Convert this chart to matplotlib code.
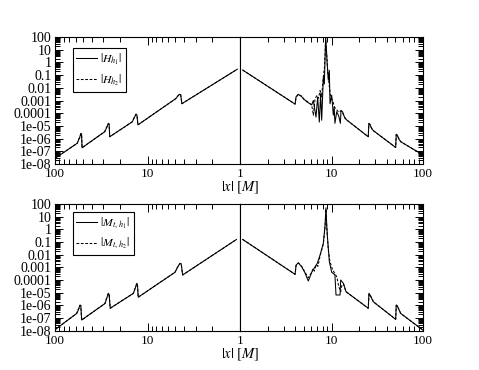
import numpy as np
import matplotlib.pyplot as plt
from matplotlib.ticker import FixedLocator, FixedFormatter, LogLocator, NullFormatter

plt.rcParams['font.family'] = ['Liberation Serif', 'DejaVu Serif']
plt.rcParams['mathtext.fontset'] = 'stix'

# ---- data ----
# top panel, left half (x runs 100 -> 1)
top_left_x = [100, 57.5, 55.5, 54.0, 52.6, 51.6, 51.0,
              29.0, 28.0, 27.2, 26.5, 26.0, 25.6,
              14.6, 14.1, 13.7, 13.3, 13.0, 12.7,
              4.95, 4.8, 4.65, 4.5, 4.38, 4.25, 1.07]
top_left_h1 = [2.8e-8, 4.3e-7, 8e-7, 1.3e-6, 2.6e-6, 2.2e-6, 1.9e-7,
               3.5e-6, 6e-6, 1e-5, 1.6e-5, 1.3e-5, 1.4e-6,
               2.1e-5, 3.5e-5, 5.5e-5, 8.7e-5, 7e-5, 1.2e-5,
               1.4e-3, 1.8e-3, 2.6e-3, 3.1e-3, 2.8e-3, 5.6e-4, 0.29]
top_left_h2 = [2.8e-8, 4.3e-7, 9e-7, 1.1e-6, 2.3e-6, 2.4e-6, 1.9e-7,
               3.5e-6, 7e-6, 9e-6, 1.5e-5, 1.4e-5, 1.4e-6,
               2.1e-5, 4e-5, 5e-5, 8e-5, 7.5e-5, 1.2e-5,
               1.4e-3, 2e-3, 2.4e-3, 2.9e-3, 3e-3, 5.6e-4, 0.29]

# top panel, right half (x runs 1 -> 100)
top_right_x1 = [1.07, 4.0, 4.1, 4.34, 4.72, 5.0, 5.36, 6.08,
                6.33, 6.77, 7.06, 7.36, 7.61, 7.81, 8.15, 8.35, 8.63, 8.8,
                9.0, 9.23, 9.47, 9.63, 10.05, 10.47, 10.7, 10.9, 11.4, 12.0,
                12.5, 12.7, 13.2, 14.0, 14.7,
                25.2, 25.6, 26.4, 27.5, 28.7,
                50.3, 51.0, 52.4, 54.5, 57.1, 100]
top_right_h1 = [0.25, 5.2e-4, 2e-3, 3.1e-3, 2e-3, 1.3e-3, 8e-4, 4.5e-4,
                1e-3, 5e-5, 1.9e-3, 2e-5, 3.5e-3, 2.8e-5, 0.07, 0.02, 100, 10,
                0.5, 0.039, 0.24, 5.6e-4, 2.6e-3, 7e-5, 3e-4, 1.6e-5, 1.3e-4, 6e-5,
                1.6e-5, 1.6e-4, 1.3e-4, 4e-5, 2.9e-5,
                1.4e-6, 1.6e-5, 1.2e-5, 6e-6, 4.2e-6,
                2e-7, 2.2e-6, 1.8e-6, 9e-7, 5.7e-7, 5.1e-8]
top_right_x2 = [1.07, 4.0, 4.1, 4.34, 4.72, 5.0, 5.36, 6.08,
                6.33, 6.6, 6.9, 7.2, 7.5, 7.8, 8.1, 8.4, 8.63, 8.85,
                9.1, 9.4, 9.7, 10.0, 10.4, 10.8, 11.3, 12.0,
                12.7, 13.2, 14.0, 14.7,
                25.2, 25.6, 26.4, 27.5, 28.7,
                50.3, 51.0, 52.4, 54.5, 57.1, 100]
top_right_h2 = [0.25, 5.2e-4, 1.8e-3, 3e-3, 2.2e-3, 1.2e-3, 9e-4, 4.5e-4,
                7e-5, 1.2e-3, 2.5e-3, 1.5e-3, 6e-3, 2e-3, 0.05, 0.5, 60, 5,
                0.2, 0.02, 3e-3, 1.5e-3, 8e-4, 3e-4, 2e-4, 1.2e-4,
                1.6e-4, 1.1e-4, 4.5e-5, 2.9e-5,
                1.4e-6, 1.5e-5, 1.3e-5, 6.5e-6, 4.2e-6,
                2e-7, 2e-6, 1.9e-6, 1e-6, 5.7e-7, 5.1e-8]

# bottom panel, left half
bot_left_x = [100, 58.3, 56.0, 54.8, 53.7, 52.6, 51.5,
              28.8, 27.9, 27.2, 26.6, 26.0, 25.3,
              14.2, 13.8, 13.4, 13.1, 12.85, 12.6,
              5.04, 4.85, 4.65, 4.46, 4.32, 4.17, 1.09]
bot_left_m1 = [1.2e-8, 2.3e-7, 4.2e-7, 7e-7, 1.07e-6, 9e-7, 7e-8,
               1.4e-6, 2.8e-6, 5e-6, 8.9e-6, 7.5e-6, 5.9e-7,
               8.9e-6, 1.6e-5, 3e-5, 5.5e-5, 4.5e-5, 4.4e-6,
               4.1e-4, 7e-4, 1.3e-3, 2.1e-3, 1.8e-3, 2.5e-4, 0.16]
bot_left_m2 = [1.2e-8, 2.3e-7, 5e-7, 6e-7, 9.5e-7, 1e-6, 7e-8,
               1.4e-6, 3.2e-6, 4.5e-6, 8e-6, 8e-6, 5.9e-7,
               8.9e-6, 1.8e-5, 2.7e-5, 5e-5, 5e-5, 4.4e-6,
               4.1e-4, 8e-4, 1.2e-3, 1.9e-3, 2e-3, 2.5e-4, 0.16]

# bottom panel, right half
bot_right_x1 = [1.07, 4.0, 4.1, 4.34, 4.72, 5.1, 5.58, 6.08, 6.6, 7.0, 7.49,
                8.14, 8.5, 8.7, 8.85, 9.0, 9.47, 10.05, 10.9, 11.2, 12.4,
                12.6, 13.5, 14.4,
                25.2, 25.7, 26.5, 28.7,
                50.3, 51.0, 52.4, 55.0, 57.1, 100]
bot_right_m1 = [0.16, 2.8e-4, 1.5e-3, 2.3e-3, 1.1e-3, 4e-4, 8.3e-5, 4.1e-4, 1.1e-3, 2.1e-3, 9.3e-3,
                0.08, 2, 50, 3, 0.35, 2.8e-3, 4.1e-4, 2.5e-4, 6.6e-6, 6.6e-6,
                1e-4, 5.5e-5, 1.2e-5,
                5.9e-7, 8.9e-6, 6e-6, 1.9e-6,
                7.9e-8, 1.07e-6, 9e-7, 4e-7, 2.3e-7, 1.1e-8]
bot_right_x2 = [1.07, 4.0, 4.1, 4.34, 4.72, 5.1, 5.58, 6.0, 6.3, 6.5, 6.8, 7.1, 7.5,
                8.14, 8.5, 8.7, 8.85, 9.2, 9.6, 10.3, 11.0, 11.5, 12.0, 12.6,
                13.0, 13.5, 14.4,
                25.2, 25.7, 26.5, 28.7,
                50.3, 51.0, 52.4, 55.0, 57.1, 100]
bot_right_m2 = [0.16, 2.8e-4, 1.4e-3, 2.2e-3, 1.2e-3, 4.5e-4, 1.5e-4, 3.5e-4, 8e-4, 5e-4, 1.6e-3, 1.2e-3, 8e-3,
                0.07, 1.5, 40, 2, 0.03, 3e-3, 6e-4, 3e-4, 1.5e-4, 3e-5, 1.2e-5,
                4e-5, 5e-5, 1.2e-5,
                5.9e-7, 8e-6, 6.5e-6, 1.9e-6,
                7.9e-8, 1e-6, 9.5e-7, 4.2e-7, 2.3e-7, 1.1e-8]

ytick_vals = [1e-8, 1e-7, 1e-6, 1e-5, 1e-4, 1e-3, 1e-2, 0.1, 1, 10, 100]
ytick_labels = ['1e-08', '1e-07', '1e-06', '1e-05', '0.0001', '0.001',
                '0.01', '0.1', '1', '10', '100']
top_labels = [r'$|H_{h_1}|$', r'$|H_{h_2}|$']
bot_labels = [r'$|M_{t,\,h_1}|$', r'$|M_{t,\,h_2}|$']

W, H = 479, 370
fig = plt.figure(figsize=(W / 100, H / 100), dpi=100)

dash = (0, (2.6, 1.6))
lw = 0.75


def style(ax, side):
    ax.set_xscale('log')
    ax.set_yscale('log')
    ax.set_ylim(1e-8, 100)
    for s in ax.spines.values():
        s.set_linewidth(0.8)
    if side == 'left':
        ax.set_xlim(100, 1)
        ax.xaxis.set_major_locator(FixedLocator([1, 10, 100]))
        ax.xaxis.set_major_formatter(FixedFormatter(['1', '10', '100']))
    else:
        ax.set_xlim(1, 100)
        # the "1" in the middle is already drawn by the left half
        ax.xaxis.set_major_locator(FixedLocator([1, 10, 100]))
        ax.xaxis.set_major_formatter(FixedFormatter([' ', '10', '100']))
    ax.xaxis.set_minor_locator(LogLocator(base=10, subs=np.arange(2, 10), numticks=50))
    ax.xaxis.set_minor_formatter(NullFormatter())
    ax.yaxis.set_major_locator(FixedLocator(ytick_vals))
    ax.yaxis.set_major_formatter(FixedFormatter(ytick_labels))
    ax.yaxis.set_minor_locator(LogLocator(base=10, subs=np.arange(2, 10), numticks=50))
    ax.yaxis.set_minor_formatter(NullFormatter())
    ax.tick_params(axis='x', which='both', direction='in', top=True, bottom=True,
                   labelsize=9.5, pad=3)
    ax.tick_params(axis='x', which='major', length=6, width=0.7)
    ax.tick_params(axis='x', which='minor', length=3.5, width=0.7)
    if side == 'left':
        ax.tick_params(axis='y', which='both', direction='in', left=True, right=False,
                       labelleft=True, labelsize=10, pad=2.5)
    else:
        ax.tick_params(axis='y', which='both', direction='in', left=False, right=True,
                       labelleft=False, labelright=False)
    ax.tick_params(axis='y', which='major', length=6, width=0.7)
    ax.tick_params(axis='y', which='minor', length=3.5, width=0.7)


def panel(top_px, bot_px, lx, l1, l2, rx1, r1, rx2, r2, labels, leg_top):
    b = 1 - bot_px / H
    h = (bot_px - top_px) / H
    axl = fig.add_axes([55 / W, b, 185 / W, h])
    axr = fig.add_axes([240 / W, b, 183 / W, h])
    style(axl, 'left')
    style(axr, 'right')
    s1, = axl.plot(lx, l1, color='black', lw=lw)
    s2, = axl.plot(lx, l2, color='black', lw=lw, linestyle=dash)
    axr.plot(rx1, r1, color='black', lw=lw)
    axr.plot(rx2, r2, color='black', lw=lw, linestyle=dash)
    leg = axl.legend([s1, s2], labels, loc='upper left',
                     bbox_to_anchor=(0.097, leg_top), borderaxespad=0,
                     fancybox=False, edgecolor='black', framealpha=1,
                     fontsize=8.5, handlelength=1.7, handletextpad=0.3,
                     borderpad=0.3, labelspacing=0.45)
    leg.get_frame().set_linewidth(0.8)
    fig.text(240 / W, 1 - (bot_px + 24) / H, r'$|x|\;[M]$',
             ha='center', va='center', fontsize=10.5)


panel(37, 164, top_left_x, top_left_h1, top_left_h2,
      top_right_x1, top_right_h1, top_right_x2, top_right_h2, top_labels, 0.913)
panel(204, 330.7, bot_left_x, bot_left_m1, bot_left_m2,
      bot_right_x1, bot_right_m1, bot_right_x2, bot_right_m2, bot_labels, 0.94)

fig.savefig('out.png', dpi=100)
